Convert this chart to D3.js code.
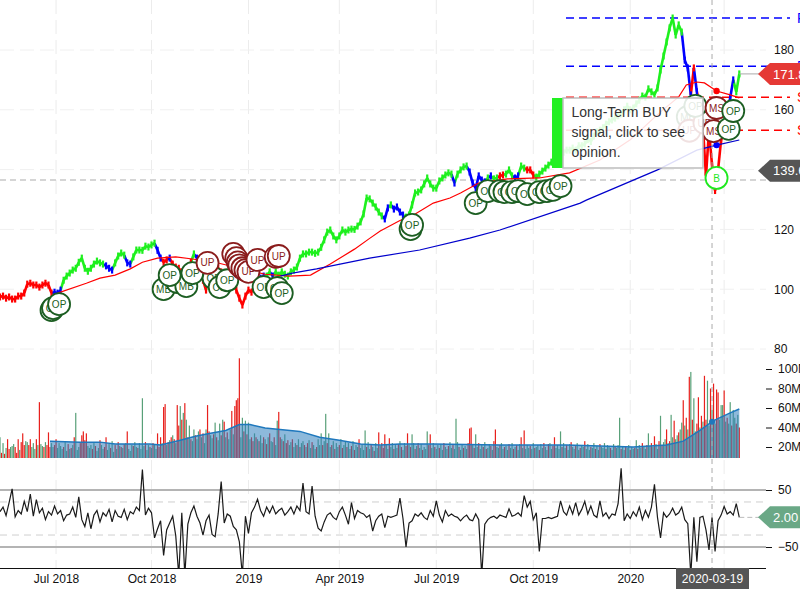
<!DOCTYPE html>
<html>
<head>
<meta charset="utf-8">
<script src="https://cdn.jsdelivr.net/npm/d3@7"></script>
<style>
body { margin: 0; background: #fff; }
svg { display: block; font-family: "Liberation Sans", Arial, sans-serif; }
.tick text { font-size: 12px; fill: #111; }
</style>
</head>
<body>
<svg id="chart" width="800" height="600"></svg>
<script>
// closes, one reading every 2 trading days
var closes = [
  97.4,97.7,97,97.4,96.7,96.7,97.7,97.7,98.7,101.7,
  102,101.4,101.4,100.7,101.4,102,101.4,98.7,99,98.7,
  99.7,103,104.4,105.4,106.4,107,109,110.4,107,106,
  107,108.4,109.4,108.8,108.4,107.8,107,106.4,108.8,111.1,
  112.1,111.4,108.8,108.4,110.8,113.1,113.1,113,114.4,114.1,
  114.8,115.4,113,110.4,109,109.8,110.4,108.4,107.4,107,
  105.8,106.4,107,109,111.8,110.4,107.8,103,99.7,110.4,
  111,109,107,105.8,104.4,103,102,101.4,99.7,97,
  94.7,97.7,99.7,99,101.4,102.4,103.7,104.4,104.4,105.8,
  104.4,105.8,104.7,105.8,105,104.4,105.8,106.4,107.4,110.4,
  111.8,111.8,112.4,112.4,112,112.4,114,116.5,119.1,119.8,
  117.8,116.5,117.8,119.8,119.1,119.8,120.1,120,121.1,122.5,
  125.2,130.5,130.2,128.8,127.5,125.8,124.5,123.5,127.2,128.2,
  126.8,127.5,125.8,124.8,124.1,124.8,128.2,132.2,132.5,133.2,
  135.2,137.2,135.2,133.8,133.8,136.2,137.2,138.2,138.9,138.5,
  135.5,138.5,139.9,140.9,141.2,139.2,135.5,133.8,137.9,136.5,
  135.9,137.2,137.9,136.9,137.2,137.9,138.2,138.5,139.9,137.9,
  137.2,137.9,141.2,140.5,139.9,139.9,138.2,137.5,138.5,139.5,
  140.5,141.5,142.5,143,144.5,145.2,145.8,146.5,146.5,147.2,
  146.5,148,148,148.6,150,149.4,151.2,152.6,153.2,154,
  155.2,156,156.6,157.2,158,158.6,160,161.2,160,160.6,
  162,163.2,164.6,164.2,167,166,165,167.3,173.3,178,
  182.7,187.4,190.7,185,188.4,186,176.6,174,165,174,
  166,161.6,153.9,138,153,141.5,133,140,150,152,
  158,164,170,166,172
];
// first reading of each coloured stretch of the price
var trendStart = [0,18,21,35,38,42,44,52,54,56,57,64,65,66,69,71,72,86,88,90,91,127,129,130,134,150,151,155,161,162,163,165,167,170,172,174,177,226,229,230,231,241,243];
var trendName  = "r b g b g b g b r b r g b r g b r b g b g b g b g b g b g b g r g b g r g b r b r b g".split(" ");

var redMaIdx = [38,57,66,76,86,94,104,116,127,142,158,175,191,205,218,234,244,251,264,273,286,297,304,316,335,356,376,396,416,436,448,453,460,465,473,482,488];
var redMa    = [98.7,102,103.7,104.7,106.8,109,110.4,110.8,110.1,109,107,105,104.4,104.7,108.4,113.4,117,119.5,123,124.8,128.8,130.5,132.2,135.5,136.9,137.2,138.9,143.2,150,159.3,164.3,168.3,169.3,169,166.3,165,164];
var blueMaIdx = [185,193,209,244,277,310,330,383,387,434,460,473,488];
var blueMa    = [104.4,105.4,106.8,110.4,113.1,117.1,119.8,128.8,129.8,139.9,146.5,148.2,149.9];

// daily volume in millions, negative = down day
var signedVolume = [
  30,-14,24,-13,19,-28,-18,20,21,23,
  -20,-14,-28,17,-25,-34,-22,26,25,-22,
  -28,20,24,18,-28,22,-66,23,21,-20,
  25,-22,-35,-20,24,20,-22,-28,19,24,
  21,18,-20,25,16,-23,18,-19,22,-30,
  55,17,20,-24,-32,-36,-27,-34,21,19,
  22,-18,24,-21,16,19,-27,22,18,-20,
  -30,17,23,-19,26,15,-22,18,-25,21,
  -20,19,-23,24,-36,18,16,22,-21,25,
  20,-19,24,18,70,21,-25,17,22,-20,
  19,-24,23,18,-34,-20,-30,24,-61,-64,
  22,-25,27,-30,32,-28,24,-63,-42,62,
  -48,55,-65,48,-30,42,-28,26,38,-32,
  28,36,-38,30,-34,24,38,-63,-36,32,
  29,-33,45,-30,27,44,-32,48,-46,30,
  -35,28,38,-57,33,-62,-68,-70,-111,30,
  50,-36,47,-33,45,28,-30,-26,34,-30,
  28,-26,32,24,-30,28,-23,30,-34,26,
  25,-30,22,47,-56,-30,28,-26,33,-24,
  -27,22,25,-28,20,24,-22,28,-20,24,
  26,-22,20,-24,27,19,-25,22,18,-20,
  28,22,34,-22,26,54,-24,34,20,-22,
  26,-18,24,20,-22,28,-19,22,26,-20,
  24,18,-21,26,-17,22,20,-28,19,23,
  17,37,-20,25,18,-22,20,-16,24,19,
  -35,21,-24,-19,-33,22,18,-29,20,24,
  -18,22,19,-23,26,-20,17,24,-21,-34,
  22,-20,33,24,-18,21,-24,19,23,-17,
  20,18,36,-22,-33,19,24,-20,18,22,
  -19,23,17,-24,20,18,-21,25,19,-22,
  18,49,25,-20,17,23,-19,21,18,-24,
  -39,-40,22,-19,33,20,-24,18,22,-20,
  25,-18,19,23,-21,17,-26,-38,20,19,
  -22,24,18,-20,21,17,-23,19,24,-18,
  20,-22,17,23,-30,19,-37,18,22,19,
  -21,18,24,-19,20,22,-17,23,19,-24,
  20,17,-23,24,18,-21,-30,19,22,18,
  36,-20,24,19,-22,17,23,-25,20,18,
  -21,24,17,-19,22,20,-26,18,23,17,
  -20,19,24,-18,21,17,-23,20,19,24,
  -18,22,20,-19,17,23,-20,19,22,50,
  -18,20,17,-21,19,22,-17,20,18,-19,
  27,-18,22,19,-24,20,18,-22,34,21,
  -24,20,-31,23,18,-26,52,-22,25,28,
  -38,24,-26,53,30,-47,28,32,-35,38,
  45,-68,42,-50,38,-92,97,-48,70,36,
  -44,-71,40,-52,46,-93,-48,88,42,-80,
  58,-85,44,-79,-76,48,63,63,-78,46,
  -50,44,66,-42,58,50,-44,53,-40
];
var volMaIdx = [33,53,66,76,99,106,119,129,139,149,158,165,175,198,211,224,238,251,264,286,330,374,396,418,429,440,451,462,471,482,488];
var volMa    = [26,25,25,23,23,22,27,31,34,37,43,43,39.5,36,30,27,23,22,23,23,22,22,21,20,21,22,26,37,47,55,59];

// oscillator, one reading every 2 trading days
var cci = [
  12,20,5,28,52,3,14,8,30,12,
  43,4,33,10,18,-2,12,6,22,8,
  14,-4,6,8,20,2,38,-2,-14,10,
  -18,6,14,-6,10,4,16,-6,14,4,
  2,16,-2,12,8,20,14,86,6,18,
  10,-34,-18,-4,-65,-20,-8,4,-30,-100,
  10,-100,-10,10,22,4,-8,-29,-4,6,
  -28,-32,8,65,-8,8,4,-14,-20,-41,
  -100,4,-26,10,20,34,14,4,20,10,
  22,8,14,18,6,12,20,8,22,14,
  62,12,8,57,4,-17,-22,-6,6,10,
  2,-2,12,20,6,-10,28,0,14,10,
  8,2,6,-22,-4,4,8,-16,4,2,
  4,6,36,0,-50,-8,-4,8,4,10,
  2,-2,14,4,31,6,-6,14,4,8,
  4,2,-4,2,6,-2,-4,8,-2,-100,
  -10,-2,2,4,0,6,4,2,17,4,
  6,10,4,40,20,30,-2,10,-58,0,
  0,2,0,2,4,31,12,6,22,8,
  28,6,16,30,8,22,6,2,31,4,
  10,0,8,6,26,88,-4,8,0,12,
  4,20,-2,14,2,20,60,2,-34,10,
  2,8,18,6,10,20,-2,-9,-100,2,
  -76,2,4,-20,-55,2,-58,-4,6,21,
  8,12,6,26,2
];

var levelPrice = [190.7, 174.6, 164.2, 153.2];
var levelColor = ["#0000ff", "#0000ff", "#ff0000", "#ff0000"];
var levelText  = ["R", "R", "S", "S"];

var markerIdx = [34,35,39,108,117,123,112,127,141,145,150,137,154,156,157,158,160,162,164,174,183,186,170,182,184,271,272,314,322,330,333,338,342,348,356,361,365,370,454,455,465,459,473,471,481,484,473];
var markerPrice = [93,93.7,95,100,102.4,101,104.7,105.4,103.7,100.7,103,108.8,111.8,110.4,109,108,107,106.4,105.8,100.7,100.4,98.7,109.8,110.8,111.1,120.1,121.5,128.8,132.8,132.8,132.5,132.5,132.8,131.8,132.5,132.8,133.2,134.5,157.6,153,155.6,161.3,160.6,152.9,153.6,159.6,137.2];
var markerText = ["OP","OP","OP","MB","OP","MB","OP","OP","OP","OP","OP","UP","UP","UP","UP","UP","UP","UP","UP","OP","OP","OP","UP","UP","UP","OP","OP","OP","OP","OP","OP","OP","OP","OP","OP","OP","OP","OP","MB","UP","UP","OP","MS","MS","OP","OP","B"];

var tickIdx = [37,100,164,224,288,352,416,478];
var tickText = ["Jul 2018","Oct 2018","2019","Apr 2019","Jul 2019","Oct 2019","2020","Apr 2020"];
var priceTicks = [80,100,120,140,160,180];
var volumeTicks = [20,40,60,80,100];
var cciTicks = [50,-50];
var cciGuides = [29,-29];

var hoverIdx = 470, dotIdx = 473, hoverPrice = 136.5, hoverDate = "2020-03-19";
var hoverVolMa = 46;

var svg = d3.select("#chart");
var colors = { r: "#ff0000", g: "#1ef01e", b: "#0000ff" };

var x = d3.scaleLinear().domain([0, 488]).range([0, 739.3]);
var yPrice = d3.scaleLinear().domain([80, 180]).range([349, 50]);
var yVol = d3.scaleLinear().domain([20, 100]).range([447, 369]);
var yCci = d3.scaleLinear().domain([-50, 50]).range([547, 490]);
var volBase = 458, cciTop = 468, cciBottom = 568, axisX = 766;

svg.append("clipPath").attr("id", "cciClip").append("rect")
    .attr("x", 0).attr("y", cciTop).attr("width", 800).attr("height", cciBottom - cciTop);

// grid
svg.append("g").selectAll("line").data(tickIdx).join("line")
    .attr("x1", function (d) { return x(d); }).attr("x2", function (d) { return x(d); })
    .attr("y1", 0).attr("y2", cciBottom)
    .attr("stroke", "#ececec").attr("stroke-dasharray", "14 6");
svg.append("g").selectAll("line").data(priceTicks).join("line")
    .attr("x1", 0).attr("x2", axisX)
    .attr("y1", function (d) { return yPrice(d); }).attr("y2", function (d) { return yPrice(d); })
    .attr("stroke", "#f0f0f0").attr("stroke-dasharray", "14 6");

// crosshair
svg.append("line").attr("x1", 0).attr("x2", axisX)
    .attr("y1", yPrice(hoverPrice)).attr("y2", yPrice(hoverPrice))
    .attr("stroke", "#c8c8c8").attr("stroke-width", 1.5).attr("stroke-dasharray", "6 4");

// support / resistance
svg.append("g").selectAll("line").data(levelPrice).join("line")
    .attr("x1", 566).attr("x2", 790)
    .attr("y1", function (d) { return yPrice(d); }).attr("y2", function (d) { return yPrice(d); })
    .attr("stroke", function (d, i) { return levelColor[i]; })
    .attr("stroke-width", 1.5).attr("stroke-dasharray", "8 5");

// price: stroke from the previous close to this close, with a short body on top
var barColor = [];
closes.forEach(function (c, k) {
    var t = d3.bisectRight(trendStart, k) - 1;
    barColor.push(colors[trendName[t]]);
});
svg.append("g").selectAll("line").data(closes).join("line")
    .attr("x1", function (d, k) { return x(2 * Math.max(k - 1, 0)); })
    .attr("y1", function (d, k) { return yPrice(k ? closes[k - 1] : d); })
    .attr("x2", function (d, k) { return x(2 * k); })
    .attr("y2", function (d) { return yPrice(d); })
    .attr("stroke", function (d, k) { return barColor[k]; })
    .attr("stroke-width", 2.6);
svg.append("g").selectAll("rect").data(closes).join("rect")
    .attr("x", function (d, k) { return x(2 * k) - 1.1; })
    .attr("width", 2.2)
    .attr("y", function (d) { return yPrice(d) - 3.5; })
    .attr("height", 7)
    .attr("fill", function (d, k) { return barColor[k]; });

// moving averages
var maLine = d3.line().x(function (d) { return x(d[0]); }).y(function (d) { return yPrice(d[1]); });
svg.append("path").attr("d", maLine(d3.zip(redMaIdx, redMa)))
    .attr("fill", "none").attr("stroke", "#ff0000").attr("stroke-width", 1.2);
svg.append("path").attr("d", maLine(d3.zip(blueMaIdx, blueMa)))
    .attr("fill", "none").attr("stroke", "#0000cc").attr("stroke-width", 1.2);

// volume
svg.append("g").selectAll("rect").data(signedVolume).join("rect")
    .attr("x", function (d, i) { return x(i) - 0.6; })
    .attr("width", 1.2)
    .attr("y", function (d) { return yVol(Math.abs(d)); })
    .attr("height", function (d) { return Math.max(0, volBase - yVol(Math.abs(d))); })
    .attr("fill", function (d) { return d < 0 ? "#e8201c" : "#58a078"; });
var volPts = d3.zip(volMaIdx, volMa);
svg.append("path")
    .attr("d", d3.area().x(function (d) { return x(d[0]); }).y0(volBase).y1(function (d) { return yVol(d[1]); })(volPts))
    .attr("fill", "#2f80bd").attr("fill-opacity", 0.55);
svg.append("path")
    .attr("d", d3.line().x(function (d) { return x(d[0]); }).y(function (d) { return yVol(d[1]); })(volPts))
    .attr("fill", "none").attr("stroke", "#1f78bd").attr("stroke-width", 1.5);

// oscillator
svg.append("g").selectAll("line").data(cciTicks).join("line")
    .attr("x1", 0).attr("x2", axisX)
    .attr("y1", function (d) { return yCci(d); }).attr("y2", function (d) { return yCci(d); })
    .attr("stroke", "#b4b4b4").attr("stroke-width", 1.8);
svg.append("g").selectAll("line").data(cciGuides).join("line")
    .attr("x1", 0).attr("x2", axisX)
    .attr("y1", function (d) { return yCci(d); }).attr("y2", function (d) { return yCci(d); })
    .attr("stroke", "#cfcfcf").attr("stroke-dasharray", "7 5");
svg.append("path").datum(cci)
    .attr("clip-path", "url(#cciClip)")
    .attr("d", d3.line().x(function (d, k) { return x(2 * k); }).y(function (d) { return yCci(d); }))
    .attr("fill", "none").attr("stroke", "#1a1a1a").attr("stroke-width", 1.2);

// crosshair vertical goes above the panels
svg.append("line").attr("x1", x(hoverIdx)).attr("x2", x(hoverIdx))
    .attr("y1", 0).attr("y2", cciBottom)
    .attr("stroke", "#aaaaaa").attr("stroke-dasharray", "5 4");
svg.append("circle").attr("cx", x(dotIdx)).attr("cy", yPrice(166.3)).attr("r", 3.2).attr("fill", "#ff0000");
svg.append("circle").attr("cx", x(dotIdx)).attr("cy", yPrice(148.2)).attr("r", 3.2).attr("fill", "#0000ff");
svg.append("circle").attr("cx", x(hoverIdx)).attr("cy", yVol(hoverVolMa)).attr("r", 3).attr("fill", "#1f78bd");

// opinion markers
function markerColor(t) {
    if (t == "B") return "#1fe81f";
    return (t == "UP" || t == "MS") ? "#8a1c1c" : "#1c5e22";
}
var marks = svg.append("g").selectAll("g").data(markerIdx).join("g")
    .attr("transform", function (d, i) { return "translate(" + x(d) + "," + yPrice(markerPrice[i]) + ")"; });
marks.append("circle").attr("r", 11).attr("fill", "#fff")
    .attr("stroke", function (d, i) { return markerColor(markerText[i]); })
    .attr("stroke-width", 1.8);
marks.append("text").attr("text-anchor", "middle").attr("dy", "0.36em")
    .attr("font-size", 10)
    .attr("fill", function (d, i) { return markerColor(markerText[i]); })
    .text(function (d, i) { return markerText[i]; });

// popup
svg.append("rect").attr("x", 552).attr("y", 98).attr("width", 11).attr("height", 70).attr("fill", "#22f022");
svg.append("rect").attr("x", 563).attr("y", 98).attr("width", 140).attr("height", 70)
    .attr("fill", "#fff").attr("fill-opacity", 0.87).attr("stroke", "#bdbdbd").attr("stroke-width", 1.5);
var popupLines = ["Long-Term BUY", "signal, click to see", "opinion."];
svg.append("g").selectAll("text").data(popupLines).join("text")
    .attr("x", 571.5).attr("y", function (d, i) { return 117 + i * 20; })
    .attr("font-size", 14).attr("fill", "#333").text(function (d) { return d; });

// axes
var xAxis = d3.axisBottom(x).tickValues(tickIdx).tickSize(0).tickPadding(6)
    .tickFormat(function (d, i) { return tickText[i]; });
var gx = svg.append("g").attr("transform", "translate(0," + cciBottom + ")").call(xAxis);
gx.select(".domain").remove();
svg.append("line").attr("x1", 0).attr("x2", axisX).attr("y1", cciBottom + 0.5).attr("y2", cciBottom + 0.5)
    .attr("stroke", "#111").attr("stroke-width", 1);

var gp = svg.append("g").attr("transform", "translate(" + axisX + ",0)")
    .call(d3.axisRight(yPrice).tickValues(priceTicks).tickSize(0).tickPadding(8));
gp.select(".domain").remove();
var gv = svg.append("g").attr("transform", "translate(" + axisX + ",0)")
    .call(d3.axisRight(yVol).tickValues(volumeTicks).tickSize(6).tickPadding(6)
        .tickFormat(function (d) { return d + "M"; }));
gv.select(".domain").remove();
gv.selectAll("line").attr("stroke", "#111");
var gc = svg.append("g").attr("transform", "translate(" + axisX + ",0)")
    .call(d3.axisRight(yCci).tickValues(cciTicks).tickSize(6).tickPadding(6));
gc.select(".domain").remove();
gc.selectAll("line").attr("stroke", "#111");

svg.append("g").selectAll("text").data(levelPrice).join("text")
    .attr("x", 797).attr("y", function (d) { return yPrice(d) + 5; })
    .attr("font-size", 14)
    .attr("fill", function (d, i) { return levelColor[i]; })
    .text(function (d, i) { return levelText[i]; });

// value tags on the right
var tagText = ["171.88", "139.66", "2.00"];
var tagColor = ["#e53935", "#555555", "#6aa886"];
var tagY = [yPrice(172), yPrice(139.6), yCci(2)];
svg.append("line").attr("x1", x(488)).attr("x2", 760).attr("y1", tagY[0]).attr("y2", tagY[0]).attr("stroke", "#aaa");
svg.append("line").attr("x1", x(488)).attr("x2", 760).attr("y1", tagY[2]).attr("y2", tagY[2]).attr("stroke", "#bbb").attr("stroke-dasharray", "5 3");
var tags = svg.append("g").selectAll("g").data(tagText).join("g")
    .attr("transform", function (d, i) { return "translate(758," + tagY[i] + ")"; });
tags.append("path").attr("d", "M0,0L12,-11H42V11H12Z").attr("fill", function (d, i) { return tagColor[i]; });
tags.append("text").attr("x", 15).attr("dy", "0.36em").attr("font-size", 13).attr("fill", "#fff")
    .text(function (d) { return d; });

// date label under crosshair
svg.append("rect").attr("x", 676).attr("y", cciBottom).attr("width", 73).attr("height", 21).attr("fill", "#555");
svg.append("text").attr("x", 712.5).attr("y", cciBottom + 15).attr("text-anchor", "middle")
    .attr("font-size", 12).attr("fill", "#fff").text(hoverDate);
</script>
</body>
</html>
